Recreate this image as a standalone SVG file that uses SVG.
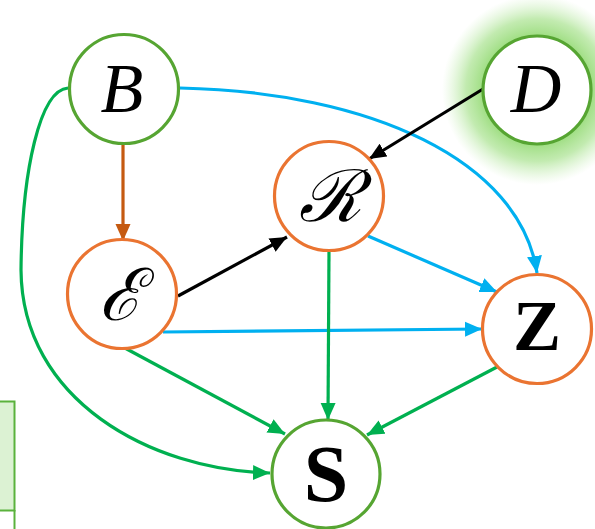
<svg xmlns="http://www.w3.org/2000/svg" width="595" height="529" viewBox="0 0 595 529">
<defs>
<style>
.node{fill:#ffffff;stroke-width:3.2}
.g{stroke:#56a532}
.o{stroke:#ea7431}
.lbl{font-family:"Liberation Serif","DejaVu Serif",serif;fill:#000;text-anchor:middle}
.it{font-style:italic;font-size:70px}
.bd{font-weight:bold;font-size:72px}
.cal{font-family:"DejaVu Serif","Liberation Serif",serif;font-style:italic;font-size:72px}
.e{fill:none;stroke-width:3.2}
</style>
<radialGradient id="glow" cx="0.5" cy="0.5" r="0.5">
<stop offset="0.5" stop-color="#8fd86e" stop-opacity="1"/>
<stop offset="0.75" stop-color="#a8e28e" stop-opacity="0.7"/>
<stop offset="1" stop-color="#c8eeb8" stop-opacity="0"/>
</radialGradient>
<marker id="aBlack" markerUnits="userSpaceOnUse" markerWidth="18" markerHeight="16" viewBox="0 0 18 16" refX="17" refY="8" orient="auto"><path d="M0,0.5 L17,8 L0,15.5 z" fill="#000"/></marker>
<marker id="aBlue" markerUnits="userSpaceOnUse" markerWidth="18" markerHeight="16" viewBox="0 0 18 16" refX="17" refY="8" orient="auto"><path d="M0,0.5 L17,8 L0,15.5 z" fill="#00b0f0"/></marker>
<marker id="aGreen" markerUnits="userSpaceOnUse" markerWidth="18" markerHeight="16" viewBox="0 0 18 16" refX="17" refY="8" orient="auto"><path d="M0,0.5 L17,8 L0,15.5 z" fill="#00b050"/></marker>
<marker id="aBrown" markerUnits="userSpaceOnUse" markerWidth="18" markerHeight="16" viewBox="0 0 18 16" refX="17" refY="8" orient="auto"><path d="M0,0.5 L17,8 L0,15.5 z" fill="#c55a11"/></marker>
</defs>
<rect width="595" height="529" fill="#ffffff"/>
<g id="box">
<rect x="-10" y="401.5" width="24.5" height="109" fill="#dcf2d3" stroke="#5ab23c" stroke-width="2"/>
<line x1="14.5" y1="510" x2="14.5" y2="529" stroke="#5ab23c" stroke-width="2"/>
</g>
<circle cx="537" cy="90" r="95" fill="url(#glow)"/>
<g id="connectors">
<line class="e" x1="123" y1="144" x2="123" y2="241" stroke="#c55a11" marker-end="url(#aBrown)"/>
<path class="e" d="M68 88 C40 90 22 170 21 270 C22 400 150 470 270 473" stroke="#00b050" marker-end="url(#aGreen)"/>
<path class="e" d="M180 88 C370 92 520 160 537 273" stroke="#00b0f0" marker-end="url(#aBlue)"/>
<line class="e" x1="483" y1="89" x2="369" y2="159" stroke="#000" marker-end="url(#aBlack)"/>
<line class="e" x1="178" y1="296" x2="287" y2="237" stroke="#000" marker-end="url(#aBlack)"/>
<line class="e" x1="368" y1="236" x2="497" y2="292" stroke="#00b0f0" marker-end="url(#aBlue)"/>
<line class="e" x1="163" y1="332" x2="482" y2="329" stroke="#00b0f0" marker-end="url(#aBlue)"/>
<line class="e" x1="329" y1="250" x2="328" y2="420" stroke="#00b050" marker-end="url(#aGreen)"/>
<line class="e" x1="123" y1="347" x2="285" y2="434" stroke="#00b050" marker-end="url(#aGreen)"/>
<line class="e" x1="497" y1="367" x2="367" y2="435" stroke="#00b050" marker-end="url(#aGreen)"/>
</g>
<g id="B"><circle class="node g" cx="124" cy="89" r="54.5"/><text class="lbl it" x="122" y="112">B</text></g>
<g id="D"><circle class="node g" cx="537" cy="90" r="54"/><text class="lbl it" x="536" y="112">D</text></g>
<g id="R"><circle class="node o" cx="329" cy="196" r="54.5"/><text class="lbl cal" x="330" y="221">ℛ</text></g>
<g id="E"><circle class="node o" cx="122" cy="294" r="54.5"/><text class="lbl cal" x="120" y="320">ℰ</text></g>
<g id="Z"><circle class="node o" cx="537" cy="329" r="54.5"/><text class="lbl bd" x="537" y="350">Z</text></g>
<g id="S"><circle class="node g" cx="326" cy="474" r="54"/><text class="lbl bd" x="326" y="501" style="font-size:80px">S</text></g>
</svg>
